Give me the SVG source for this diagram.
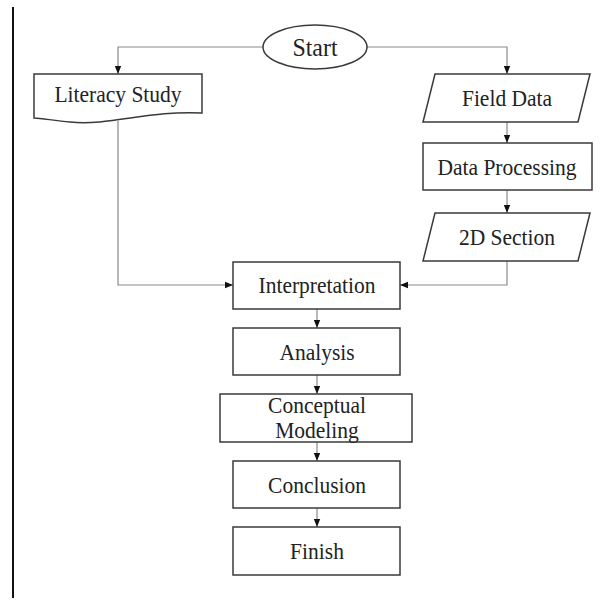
<svg xmlns="http://www.w3.org/2000/svg" width="611" height="600" viewBox="0 0 611 600">
<style>
.node{fill:#fff;stroke:#3a3a3a;stroke-width:1.5}
.conn{fill:none;stroke:#8a8a8a;stroke-width:1.2}
.t{font-family:"Liberation Serif","Times New Roman",serif;font-size:23.5px;fill:#222;text-anchor:middle}
</style>
<defs>
<marker id="arr" markerUnits="userSpaceOnUse" markerWidth="8" markerHeight="8" viewBox="0 0 8 8" refX="8" refY="4" orient="auto">
<path d="M0,0.8 L8,4 L0,7.2 Z" fill="#111"/>
</marker>
</defs>
<rect width="611" height="600" fill="#fff"/>
<line x1="13" y1="7" x2="13" y2="598" stroke="#111" stroke-width="2"/>
<g id="connectors">
<path class="conn" d="M263,47 H118 V74" marker-end="url(#arr)"/>
<path class="conn" d="M367,47 H507 V74" marker-end="url(#arr)"/>
<path class="conn" d="M507,122 V143" marker-end="url(#arr)"/>
<path class="conn" d="M507,190 V213" marker-end="url(#arr)"/>
<path class="conn" d="M507,261 V285 H400" marker-end="url(#arr)"/>
<path class="conn" d="M118,121 V285 H233" marker-end="url(#arr)"/>
<path class="conn" d="M317,309 V328" marker-end="url(#arr)"/>
<path class="conn" d="M317,375 V394" marker-end="url(#arr)"/>
<path class="conn" d="M317,442 V461" marker-end="url(#arr)"/>
<path class="conn" d="M317,508 V527" marker-end="url(#arr)"/>
</g>
<g id="start">
<ellipse class="node" cx="315" cy="47" rx="52" ry="22"/>
<text class="t" transform="translate(315,56) scale(0.92,1)" style="font-size:26px">Start</text>
</g>
<g id="literacy-study">
<path class="node" d="M34,74 H202 V113 C150,110 110,126 70,122 C55,121 42,118 34,118 Z"/>
<text class="t" transform="translate(118,102) scale(0.915,1)">Literacy Study</text>
</g>
<g id="field-data">
<path class="node" d="M435,74 H590 L578,122 H423 Z"/>
<text class="t" transform="translate(507,106) scale(0.915,1)">Field Data</text>
</g>
<g id="data-processing">
<rect class="node" x="423" y="143" width="169" height="47"/>
<text class="t" transform="translate(507,175) scale(0.915,1)">Data Processing</text>
</g>
<g id="section-2d">
<path class="node" d="M435,213 H590 L578,261 H423 Z"/>
<text class="t" transform="translate(507,245) scale(0.915,1)">2D Section</text>
</g>
<g id="interpretation">
<rect class="node" x="233" y="262" width="167" height="47"/>
<text class="t" transform="translate(317,293) scale(0.915,1)">Interpretation</text>
</g>
<g id="analysis">
<rect class="node" x="233" y="328" width="167" height="47"/>
<text class="t" transform="translate(317,360) scale(0.915,1)">Analysis</text>
</g>
<g id="conceptual-modeling">
<rect class="node" x="220" y="394" width="192" height="48"/>
<text class="t" transform="translate(317,413) scale(0.915,1)">Conceptual</text>
<text class="t" transform="translate(317,438) scale(0.915,1)">Modeling</text>
</g>
<g id="conclusion">
<rect class="node" x="233" y="461" width="167" height="47"/>
<text class="t" transform="translate(317,493) scale(0.915,1)">Conclusion</text>
</g>
<g id="finish">
<rect class="node" x="233" y="527" width="167" height="48"/>
<text class="t" transform="translate(317,559) scale(0.915,1)">Finish</text>
</g>
</svg>
